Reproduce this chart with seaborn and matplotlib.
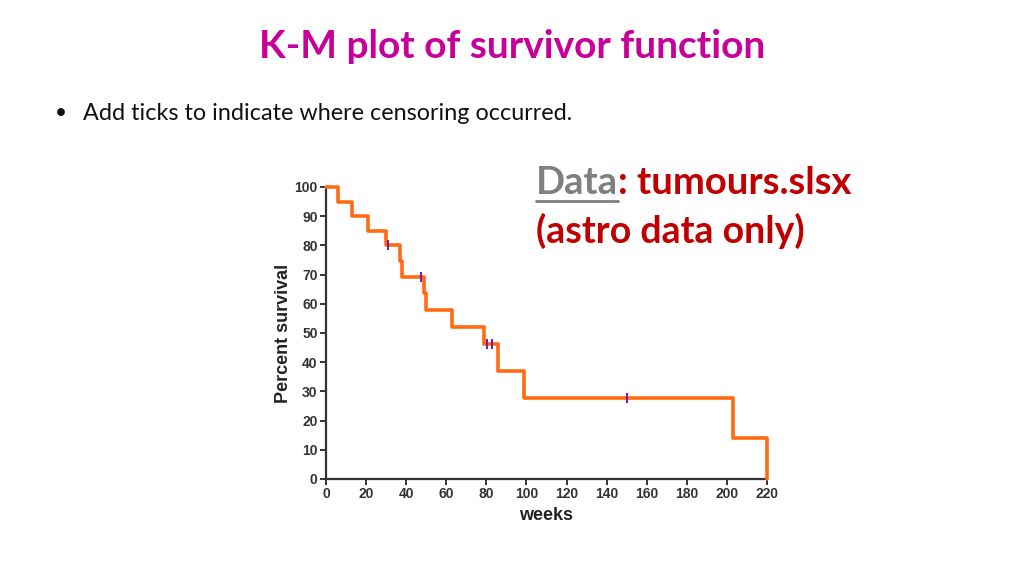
import matplotlib
matplotlib.use("Agg")
import matplotlib.pyplot as plt
from matplotlib.lines import Line2D
import seaborn as sns
import pandas as pd

# ---- data ----
step_weeks = [0, 6, 13, 21, 30, 37, 38, 49, 50, 63, 79, 86, 99, 203, 220]
step_survival = [100, 95, 90, 85, 80, 74.7, 69.3, 63.6, 57.8, 52, 46.2, 37, 27.7, 13.9, 0]
censor_weeks = [31, 47.5, 80.3, 82.8, 150]
censor_survival = [80, 69.3, 46.2, 46.2, 27.7]
x_ticks = list(range(0, 221, 20))
y_ticks = list(range(0, 101, 10))

title = "K-M plot of survivor function"
bullet = "Add ticks to indicate where censoring occurred."

sns.set_theme(style="ticks")
plt.rcParams['font.family'] = ['Liberation Sans', 'DejaVu Sans']

fig = plt.figure(figsize=(10.24, 5.76), dpi=100)
fig.patch.set_facecolor("white")

ax = fig.add_axes([326/1024, 1-479/576, (767-326)/1024, (479-187)/576])

df = pd.DataFrame({"weeks": step_weeks, "survival": step_survival})
cf = pd.DataFrame({"weeks": censor_weeks, "survival": censor_survival})

sns.lineplot(data=df, x="weeks", y="survival", ax=ax, sort=False, estimator=None,
             drawstyle="steps-post", color="#FF6A13", linewidth=2.6, zorder=3,
             clip_on=False)
sns.scatterplot(data=cf, x="weeks", y="survival", ax=ax, marker="|", s=50,
                linewidth=1.5, color="#7A1FA2", zorder=4)

ax.set_xlim(0, 220)
ax.set_ylim(0, 100)
ax.set_xticks(x_ticks)
ax.set_yticks(y_ticks)
ax.margins(0)
for s in ["top", "right"]:
    ax.spines[s].set_visible(False)
for s in ["left", "bottom"]:
    ax.spines[s].set_color("#333333")
    ax.spines[s].set_linewidth(1.6)
    ax.spines[s].set_clip_on(False)
ax.tick_params(axis="both", colors="#333333", labelsize=10, width=1.4, length=4, pad=2)
for lbl in ax.get_xticklabels() + ax.get_yticklabels():
    lbl.set_fontweight("bold")
    lbl.set_color("#333333")
ax.set_xlabel("weeks", fontsize=13, fontweight="bold", color="#222222", labelpad=4)
ax.set_ylabel("Percent survival", fontsize=13, fontweight="bold", color="#222222", labelpad=2)
ax.set_facecolor("white")
ax.grid(False)

# ---- slide texts ----
fig.text(512/1024, 1-47/576, title, ha="center", va="center", fontsize=28,
         fontweight="bold", color="#C8009A", family=["Lato", "DejaVu Sans"])
fig.text(55/1024, 1-113/576, "•", ha="left", va="center", fontsize=15,
         color="#111111", family=["Lato", "DejaVu Sans"])
fig.text(83/1024, 1-113/576, bullet, ha="left", va="center", fontsize=16.8,
         color="#111111", family=["Lato", "DejaVu Sans"])

fig.canvas.draw()
r = fig.canvas.get_renderer()
t_data = fig.text(536/1024, 1-183/576, "Data", ha="left", va="center", fontsize=27.5,
                  fontweight="bold", color="#7F7F7F", family=["Lato", "DejaVu Sans"])
bb = t_data.get_window_extent(renderer=r)
fig.text(bb.x1/1024, 1-183/576, ": tumours.slsx", ha="left", va="center", fontsize=27.5,
         fontweight="bold", color="#C00000", family=["Lato", "DejaVu Sans"])
fig.add_artist(Line2D([bb.x0/1024, bb.x1/1024], [1-201/576, 1-201/576],
                      transform=fig.transFigure, color="#7F7F7F", linewidth=2))
fig.text(536/1024, 1-231/576, "(astro data only)", ha="left", va="center", fontsize=27,
         fontweight="bold", color="#C00000", family=["Lato", "DejaVu Sans"])

fig.savefig("out.png", dpi=100, facecolor="white")
